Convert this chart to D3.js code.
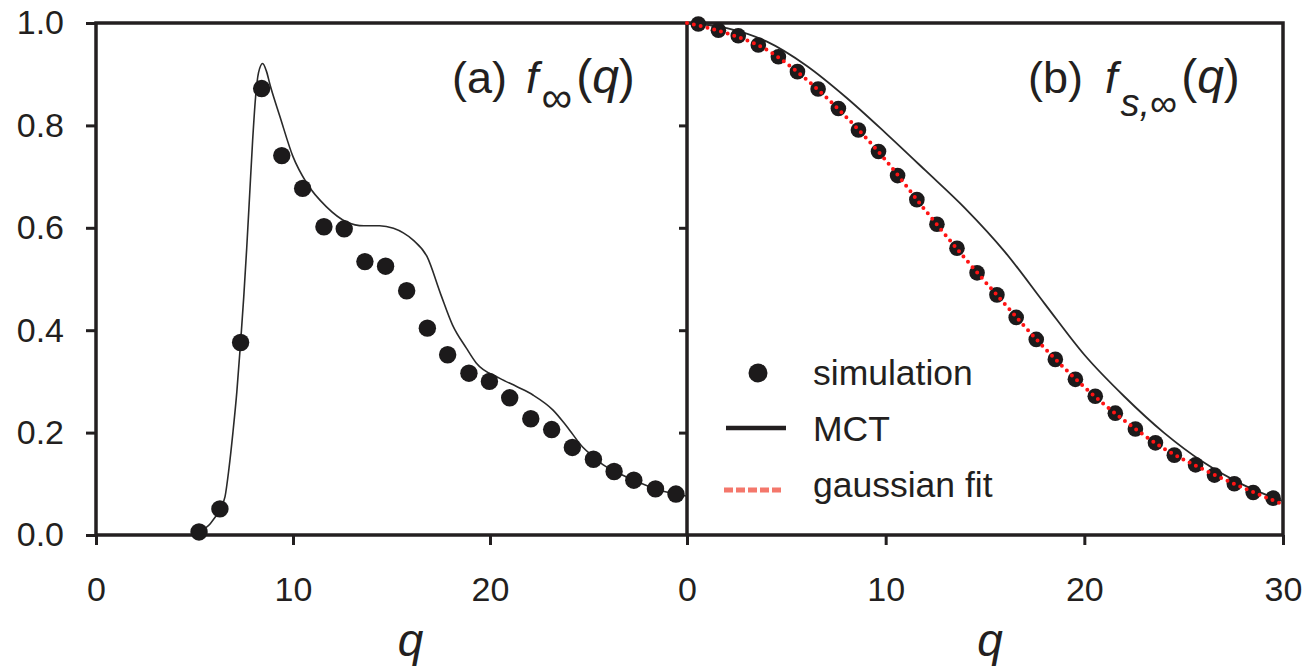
<!DOCTYPE html>
<html>
<head>
<meta charset="utf-8">
<script src="https://cdn.jsdelivr.net/npm/d3@7"></script>
<style>
  html, body { margin: 0; padding: 0; background: #fff; }
  svg { display: block; }
  text { font-family: "Liberation Sans", Arial, Helvetica, sans-serif; fill: #231f20; }
</style>
</head>
<body>
<svg id="chart" width="1306" height="672"></svg>
<script>
// ---- data -------------------------------------------------------------
// (a) collective non-ergodicity parameter f_inf(q)
const qA_sim = [5.23, 6.29, 7.34, 8.41, 9.43, 10.49, 11.57, 12.6, 13.65, 14.7, 15.77, 16.82,
                17.85, 18.93, 19.97, 21.0, 22.07, 23.13, 24.18, 25.25, 26.3, 27.3, 28.4, 29.44];
const fA_sim = [0.006, 0.051, 0.376, 0.872, 0.741, 0.677, 0.602, 0.598, 0.534, 0.525, 0.477, 0.404,
                0.352, 0.316, 0.300, 0.268, 0.227, 0.206, 0.171, 0.148, 0.124, 0.107, 0.090, 0.080];
const qA_mct = [5.23, 5.8, 6.29, 6.55, 6.75, 6.95, 7.15, 7.34, 7.5, 7.65, 7.8, 7.95, 8.1, 8.25,
                8.46, 8.65, 8.83, 9.34, 10.0, 10.7, 11.7, 12.7, 13.6, 14.4, 15.1, 15.6, 16.1,
                16.8, 17.5, 18.1, 18.8, 19.3, 20.5, 21.35, 22.2, 23.2, 23.9, 24.7, 25.25,
                25.75, 26.3, 27.3, 28.4, 29.44, 30.0];
const fA_mct = [0.006, 0.022, 0.051, 0.075, 0.13, 0.2, 0.28, 0.376, 0.465, 0.56, 0.665, 0.77,
                0.855, 0.903, 0.921, 0.906, 0.88, 0.817, 0.739, 0.687, 0.641, 0.612, 0.604,
                0.604, 0.599, 0.59, 0.576, 0.544, 0.47, 0.41, 0.365, 0.336, 0.306, 0.29, 0.273,
                0.244, 0.212, 0.172, 0.153, 0.137, 0.125, 0.107, 0.09, 0.08, 0.076];

// (b) self part f_s,inf(q)
const qB_sim = [0.57, 1.58, 2.58, 3.59, 4.6, 5.56, 6.6, 7.62, 8.63, 9.64, 10.6, 11.57, 12.58,
                13.59, 14.6, 15.6, 16.57, 17.58, 18.54, 19.55, 20.55, 21.56, 22.57, 23.58,
                24.53, 25.6, 26.55, 27.55, 28.5, 29.5];
const fB_sim = [0.998, 0.986, 0.975, 0.957, 0.934, 0.905, 0.871, 0.833, 0.791, 0.749, 0.702,
                0.655, 0.607, 0.56, 0.512, 0.469, 0.425, 0.382, 0.343, 0.304, 0.271, 0.238,
                0.207, 0.180, 0.156, 0.137, 0.117, 0.100, 0.083, 0.072];
const qB_mct = [0, 2, 4, 6, 8, 10, 12, 14, 16, 18, 20, 22, 24, 26, 28, 30];
const fB_mct = [1.0, 0.99, 0.964, 0.917, 0.855, 0.785, 0.712, 0.638, 0.553, 0.452, 0.352, 0.271,
                0.2, 0.142, 0.098, 0.066];
const qB_fit = [0, 2, 4, 6, 8, 10, 12, 14, 16, 18, 20, 22, 24, 26, 28, 30];
const fB_fit = [1.0, 0.98, 0.948, 0.89, 0.817, 0.732, 0.634, 0.54, 0.451, 0.365, 0.289, 0.224,
                0.169, 0.128, 0.092, 0.06];

// axes
const yTicks = [0, 0.2, 0.4, 0.6, 0.8, 1.0];
const xTicksA = [0, 10, 20];
const xTicksB = [0, 10, 20, 30];
const legendLabels = ["simulation", "MCT", "gaussian fit"];

// ---- layout -----------------------------------------------------------
const svg = d3.select("#chart");
const plotL = 96, plotM = 687, plotR = 1283, plotT = 23, plotB = 535;
const ink = "#231f20";

const xA = d3.scaleLinear().domain([0, 30]).range([plotL, plotM]);
const xB = d3.scaleLinear().domain([0, 30]).range([plotM, plotR]);
const y = d3.scaleLinear().domain([0, 1]).range([plotB, plotT]);

const zip = (xs, ys) => xs.map((v, i) => [v, ys[i]]);

// axes with ticks and labels
function styleAxis(g) {
  g.select(".domain").remove();
  g.selectAll(".tick line").attr("stroke", ink).attr("stroke-width", 3);
  g.selectAll(".tick text").attr("font-size", 34).attr("fill", ink)
    .attr("font-family", "'Liberation Sans', Arial, sans-serif");
}
svg.append("g").attr("transform", `translate(${plotL},0)`)
  .call(d3.axisLeft(y).tickValues(yTicks).tickFormat(d3.format(".1f")).tickSize(10).tickPadding(22))
  .call(styleAxis);
svg.append("g").attr("transform", `translate(${plotM},0)`)
  .call(d3.axisLeft(y).tickValues([0.2, 0.4, 0.6, 0.8]).tickFormat("").tickSize(8))
  .call(styleAxis);
svg.append("g").attr("transform", `translate(0,${plotB})`)
  .call(d3.axisBottom(xA).tickValues(xTicksA).tickFormat(d3.format("d")).tickSize(10).tickPadding(32))
  .call(styleAxis);
svg.append("g").attr("transform", `translate(0,${plotB})`)
  .call(d3.axisBottom(xB).tickValues(xTicksB).tickFormat(d3.format("d")).tickSize(10).tickPadding(32))
  .call(styleAxis);

// frame around both panels
svg.append("path")
  .attr("d", `M${plotL},${plotT}H${plotR}V${plotB}H${plotL}Z M${plotM},${plotT}V${plotB}`)
  .attr("fill", "none").attr("stroke", ink).attr("stroke-width", 3.5);

// ---- panel (a) --------------------------------------------------------
const lineA = d3.line().x(d => xA(d[0])).y(d => y(d[1])).curve(d3.curveMonotoneX);
svg.append("path").datum(zip(qA_mct, fA_mct))
  .attr("d", lineA).attr("fill", "none").attr("stroke", "#2a2a2a").attr("stroke-width", 1.6);
svg.append("g").selectAll("circle").data(zip(qA_sim, fA_sim)).join("circle")
  .attr("cx", d => xA(d[0])).attr("cy", d => y(d[1])).attr("r", 8.7).attr("fill", "#1c1a1b");

// ---- panel (b) --------------------------------------------------------
const lineB = d3.line().x(d => xB(d[0])).y(d => y(d[1])).curve(d3.curveMonotoneX);
svg.append("path").datum(zip(qB_mct, fB_mct))
  .attr("d", lineB).attr("fill", "none").attr("stroke", "#2a2a2a").attr("stroke-width", 1.8);
svg.append("g").selectAll("circle").data(zip(qB_sim, fB_sim)).join("circle")
  .attr("cx", d => xB(d[0])).attr("cy", d => y(d[1])).attr("r", 7.8).attr("fill", "#1c1a1b");
svg.append("path").datum(zip(qB_fit, fB_fit))
  .attr("d", lineB).attr("fill", "none").attr("stroke", "#ff1414").attr("stroke-width", 4)
  .attr("stroke-linecap", "round").attr("stroke-dasharray", "0,7");

// ---- titles -----------------------------------------------------------
function title(x, yb, label, fGap, sub, subDy) {
  const t = svg.append("text").attr("x", x).attr("y", yb).attr("font-size", 45);
  t.append("tspan").text(label);
  t.append("tspan").attr("dx", fGap).attr("font-style", "italic").text("f");
  sub(t, subDy);
  t.append("tspan").attr("dy", -subDy).attr("dx", 4).attr("font-size", 48).text("(");
  t.append("tspan").attr("font-style", "italic").attr("font-size", 48).text("q");
  t.append("tspan").attr("font-size", 48).text(")");
}
title(452, 93, "(a)", 19, (t, dy) => {
  t.append("tspan").attr("dy", dy).attr("dx", 3).attr("font-size", 43).text("∞");
}, 19);
title(1028, 93, "(b)", 22, (t, dy) => {
  t.append("tspan").attr("dy", dy).attr("dx", 3).attr("font-size", 38).attr("font-style", "italic").text("s,");
  t.append("tspan").attr("font-size", 38).text("∞");
}, 23);

// axis titles
svg.append("text").attr("x", (plotL + plotM) / 2 + 19).attr("y", 656)
  .attr("text-anchor", "middle").attr("font-size", 46).attr("font-style", "italic").text("q");
svg.append("text").attr("x", (plotM + plotR) / 2 + 5).attr("y", 656)
  .attr("text-anchor", "middle").attr("font-size", 46).attr("font-style", "italic").text("q");

// ---- legend -----------------------------------------------------------
const lg = svg.append("g");
const lx = 726, lw = 60, tx = 813;
lg.append("circle").attr("cx", lx + lw / 2 + 2).attr("cy", 373).attr("r", 9.5).attr("fill", "#1c1a1b");
lg.append("line").attr("x1", lx).attr("x2", lx + lw).attr("y1", 428).attr("y2", 428)
  .attr("stroke", ink).attr("stroke-width", 4.5);
lg.append("line").attr("x1", lx - 2).attr("x2", lx + lw - 4).attr("y1", 490).attr("y2", 490)
  .attr("stroke", "#f4776b").attr("stroke-width", 5).attr("stroke-dasharray", "9,3");
[385, 441, 497].forEach((yy, i) => {
  lg.append("text").attr("x", tx).attr("y", yy).attr("font-size", 35.5).text(legendLabels[i]);
});
</script>
</body>
</html>
